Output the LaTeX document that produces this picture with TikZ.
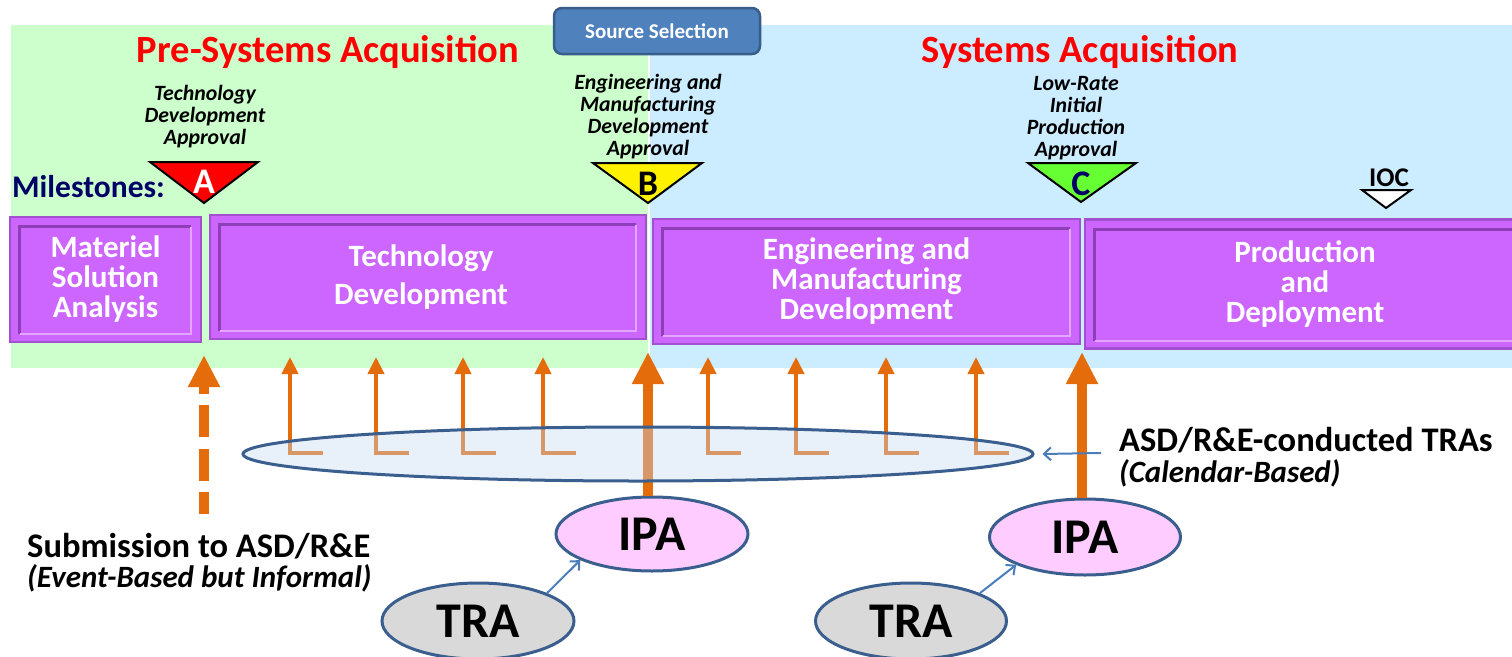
\documentclass[tikz,border=0pt]{standalone}
\usepackage{fontspec}
\setmainfont{Carlito}
\usetikzlibrary{arrows.meta,shapes.geometric,calc}
\definecolor{bggreen}{HTML}{CCFFCC}
\definecolor{bgblue}{HTML}{CCECFF}
\definecolor{phase}{HTML}{CC66FF}
\definecolor{phaseedge}{HTML}{A24FD0}
\definecolor{bevdark}{HTML}{8E3FB8}
\definecolor{bevlight}{HTML}{E2A6FF}
\definecolor{orng}{HTML}{E46C0A}
\definecolor{elledge}{HTML}{3A5F8F}
\definecolor{ellfill}{HTML}{C6D9F1}
\definecolor{ipafill}{HTML}{FFCCFF}
\definecolor{trafill}{HTML}{D9D9D9}
\definecolor{ssfill}{HTML}{4F81BD}
\definecolor{ssedge}{HTML}{385D8A}
\definecolor{navy}{HTML}{000066}
\definecolor{msgreen}{HTML}{66FF33}
\definecolor{arrblue}{HTML}{4A7EBB}
\begin{document}
\begin{tikzpicture}[x=1pt,y=-1pt,
  title/.style={text=red,font=\fontsize{38.5}{40}\selectfont\bfseries,inner sep=0pt},
  mslabel/.style={align=center,font=\fontsize{21.8}{22}\selectfont\bfseries\itshape,inner sep=0pt},
  msletter/.style={anchor=base,font=\fontsize{36}{38}\selectfont\bfseries,inner sep=0pt},
  mstri/.style={draw=black,line width=2pt,line join=miter},
  phasebox/.style={draw=phaseedge,line width=2.5pt,fill=phase,text=white,align=center,
    font=\fontsize{31}{30}\selectfont\bfseries,inner sep=0pt},
  bigarrow/.style={draw=orng,line width=10pt,-{Triangle[length=32pt,width=30pt]}},
  thinarrow/.style={draw=orng,line width=4pt,-{Triangle[length=17pt,width=16pt]}},
  oval/.style={ellipse,draw=elledge,line width=3pt,inner sep=0pt},
  bluearrow/.style={draw=arrblue,line width=2pt,-{Straight Barb[length=7pt,width=13pt]}},
  plaintext/.style={font=\fontsize{34.5}{36}\selectfont\bfseries,inner sep=0pt},
  italtext/.style={font=\fontsize{31}{33}\selectfont\bfseries\itshape,inner sep=0pt},
  ovaltext/.style={font=\fontsize{50}{52}\selectfont\bfseries},
]
\useasboundingbox (0,0) rectangle (1512,656);
% backgrounds
\fill[bggreen] (11,25) rectangle (648,368);
\fill[bgblue] (650,25) rectangle (1512,368);
% source selection
\node[draw=ssedge,line width=2.5pt,fill=ssfill,rounded corners=8pt,minimum width=206pt,minimum height=46pt,
  text=white,font=\fontsize{21}{23}\selectfont\bfseries,inner sep=0pt] (ss) at (657,31) {Source Selection};
% titles
\node[title,anchor=base] (pre) at (328,62) {Pre-Systems Acquisition};
\node[title,anchor=base] (sys) at (1080,62) {Systems Acquisition};
% milestone labels
\node[mslabel] (la) at (205,117) {Technology\\Development\\Approval};
\node[mslabel] (lb) at (648,117) {Engineering and\\Manufacturing\\Development\\Approval};
\node[mslabel] (lc) at (1076,118) {Low-Rate\\ Initial\\Production\\Approval};
\node[anchor=base west,text=navy,font=\fontsize{31.5}{33}\selectfont\bfseries,inner sep=0pt] (ms) at (12,197) {Milestones:};
% triangles
\filldraw[mstri,fill=red] (150,162) -- (258,162) -- (204,203) -- cycle;
\node[msletter,text=white] (ma) at (204,193) {A};
\filldraw[mstri,fill=yellow] (593,163) -- (702,163) -- (648,203) -- cycle;
\node[msletter,text=black] (mb) at (648,195) {B};
\filldraw[mstri,fill=msgreen] (1028,163) -- (1136,163) -- (1081,202) -- cycle;
\node[msletter,text=navy] (mc) at (1081,195) {C};
\filldraw[mstri,fill=white] (1362,190) -- (1411,190) -- (1386,208) -- cycle;
\node[anchor=base,font=\fontsize{27}{29}\selectfont\bfseries,inner sep=0pt] (ioc) at (1389,186) {IOC};
% phase boxes
\node[phasebox,minimum width=191pt,minimum height=125pt] (msa) at (105.5,279.5) {Materiel\\Solution\\Analysis};
\node[phasebox,minimum width=436pt,minimum height=124pt] (td) at (428,277) {Technology\hspace*{14pt}\\[8pt]Development\hspace*{14pt}};
\node[phasebox,minimum width=427pt,minimum height=125pt] (emd) at (866.5,281.5) {Engineering and\\Manufacturing\\Development};
\node[phasebox,minimum width=440pt,minimum height=129pt] (pd) at (1305,284) {Production\\and\\Deployment};
\foreach \n in {msa,td,emd,pd}{
  \coordinate (\n nw) at ($(\n.north west)+(11,11)$);
  \coordinate (\n se) at ($(\n.south east)+(-11,-9)$);
  \draw[bevdark,line width=3pt] (\n nw |- \n se) -- (\n nw) -- (\n nw -| \n se);
  \draw[bevlight,line width=2pt] (\n nw -| \n se) -- (\n se) -- (\n nw |- \n se);
}
% orange arrows
\coordinate (dashbot) at (204,514);
\coordinate (dashtop) at (204,355);
\draw[bigarrow,dash pattern=on 32pt off 11.5pt,dash phase=10pt] (dashbot) -- (dashtop);
\foreach \x [count=\i] in {290,376,463,543,708,796,886,976}{
  \coordinate (f\i) at (\x+33,453);
  \coordinate (t\i) at (\x,357);
  \draw[thinarrow] (f\i) -| (t\i);
}
% IPA / TRA ovals
\node[oval,fill=ipafill,minimum width=192pt,minimum height=74pt,ovaltext] (ipa1) at (652,534) {IPA};
\node[oval,fill=ipafill,minimum width=191pt,minimum height=76pt,ovaltext] (ipa2) at (1085,537) {IPA};
\node[oval,fill=trafill,minimum width=192pt,minimum height=76pt,ovaltext] (tra1) at (478,621) {TRA};
\node[oval,fill=trafill,minimum width=191pt,minimum height=76pt,ovaltext] (tra2) at (911,621) {TRA};
\coordinate (top1) at (648,352);
\coordinate (top2) at (1082,352);
\draw[bigarrow] (ipa1.north -| top1) -- (top1);
\draw[bigarrow] (ipa2.north -| top2) -- (top2);
% calendar ellipse
\node[oval,fill=ellfill,fill opacity=0.4,draw opacity=1,minimum width=790pt,minimum height=54pt] (cal) at (638,454) {};
% blue arrows
\draw[bluearrow] (tra1.22) -- (ipa1.200);
\draw[bluearrow] (tra2.22) -- (ipa2.202);
\coordinate (asdtail) at (1101,453);
\draw[bluearrow] (asdtail) -- ([xshift=8pt]cal.east);
% texts
\node[plaintext,anchor=base west] (asd) at (1119,451) {ASD/R\&E-conducted TRAs};
\node[italtext,anchor=base west] (cb) at (1119,482) {(Calendar-Based)};
\node[plaintext,anchor=base west] (sub) at (27,557) {Submission to ASD/R\&E};
\node[italtext,anchor=base west] (eb) at (27,587) {(Event-Based but Informal)};
\end{tikzpicture}
\end{document}
